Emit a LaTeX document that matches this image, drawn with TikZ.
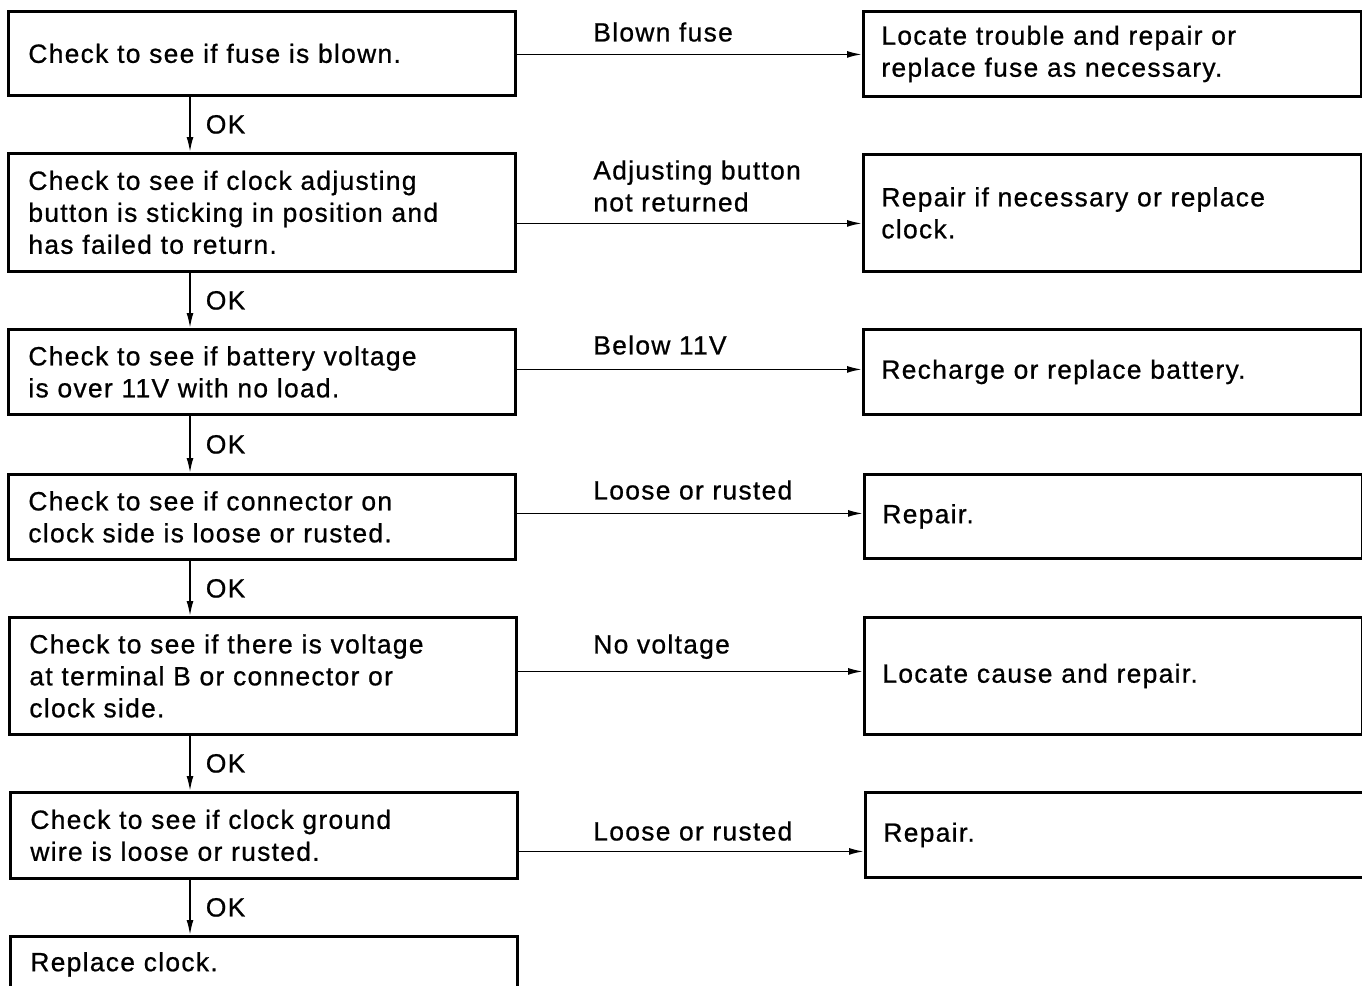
\documentclass[tikz,border=0pt]{standalone}
\usepackage{fontspec}
\setmainfont{Liberation Sans}[LetterSpace=5, FakeBold=0.8]
\usetikzlibrary{arrows.meta,calc}
\tikzset{
  bx/.style={draw, line width=1.6pt, anchor=north west, align=left, inner ysep=0pt},
  chk/.style={bx, text width=9.34cm, inner xsep=0.4cm},
  fix/.style={bx, text width=9.24cm, inner xsep=0.36cm},
  arr/.style={-{Latex[length=3mm,width=1.4mm]}, line width=1pt},
  lbl/.style={anchor=north west, inner sep=0pt, align=left},
  ok/.style={anchor=west, inner sep=0pt, xshift=0.3cm},
}

\begin{document}
\begin{tikzpicture}[x=0.02cm, y=-0.02cm, font=\fontsize{15pt}{18.2pt}\selectfont]
  \useasboundingbox (0,0) rectangle (1362,985);
  \clip (0,0) rectangle (1362,985);
  % checks, left column
  \node[chk, minimum height=1.68cm] (c1) at (7,10) {Check to see if fuse is blown.};
  \node[chk, minimum height=2.36cm] (c2) at (7,152) {Check to see if clock adjusting\\button is sticking in position and\\has failed to return.};
  \node[chk, minimum height=1.70cm] (c3) at (7,328) {Check to see if battery voltage\\is over 11V with no load.};
  \node[chk, minimum height=1.70cm] (c4) at (7,473) {Check to see if connector on\\clock side is loose or rusted.};
  \node[chk, minimum height=2.34cm] (c5) at (8,616) {Check to see if there is voltage\\at terminal B or connector or\\clock side.};
  \node[chk, minimum height=1.72cm] (c6) at (9,791) {Check to see if clock ground\\wire is loose or rusted.};
  \node[chk, minimum height=1.12cm] (c7) at (9,935) {Replace clock.};
  % remedies, right column
  \node[fix, minimum height=1.70cm] (r1) at (862,10) {Locate trouble and repair or\\replace fuse as necessary.};
  \node[fix, minimum height=2.34cm] (r2) at (862,153) {Repair if necessary or replace\\clock.};
  \node[fix, minimum height=1.70cm] (r3) at (862,328) {Recharge or replace battery.};
  \node[fix, minimum height=1.68cm] (r4) at (863,473) {Repair.};
  \node[fix, minimum height=2.34cm] (r5) at (863,616) {Locate cause and repair.};
  \node[fix, minimum height=1.70cm] (r6) at (864,791) {Repair.};
  % branches
  \foreach \i/\dy in {1/1, 2/11, 3/-2.5, 4/-3.5, 5/-4.5, 6/16}
    \draw[arr] ($(c\i.east)+(0,\dy)$) coordinate (s\i) -- (s\i -| r\i.west);
  \node[lbl] (b1) at (593,22) {Blown fuse};
  \node[lbl] (b2) at (593,160) {Adjusting button\\not returned};
  \node[lbl] (b3) at (593,335) {Below 11V};
  \node[lbl] (b4) at (593,480) {Loose or rusted};
  \node[lbl] (b5) at (593,634) {No voltage};
  \node[lbl] (b6) at (593,821) {Loose or rusted};
  % OK steps
  \foreach \i/\j/\dx in {1/2/183, 2/3/183, 3/4/183, 4/5/183, 5/6/182, 6/7/181}
    \draw[arr] ($(c\i.south west)+(\dx,0)$) coordinate (t\i) -- (t\i |- c\j.north) node[ok, midway] (ok\i) {OK};
\end{tikzpicture}
\end{document}
